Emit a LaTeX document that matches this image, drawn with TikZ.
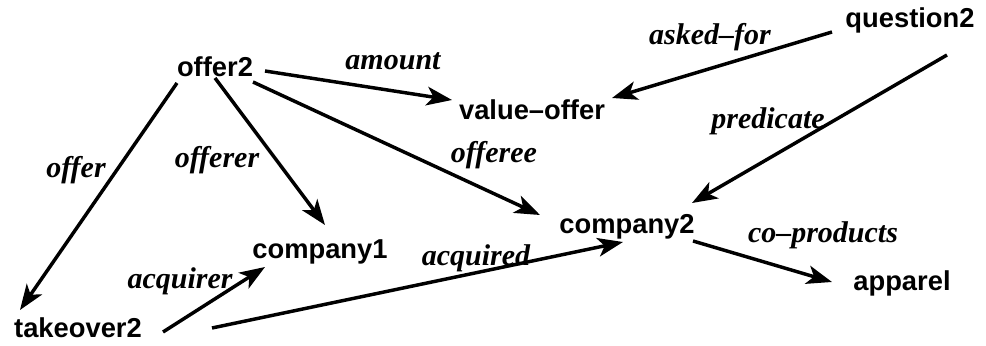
\documentclass[tikz,border=0pt]{standalone}
\usepackage{fontspec}
\setmainfont{Liberation Sans}
\newfontfamily\lblfont[Ligatures=TeX]{Liberation Serif}
\usetikzlibrary{arrows.meta}

\begin{document}
\begin{tikzpicture}[x=0.75pt,y=-0.75pt,
  concept/.style={inner sep=0pt, anchor=base, font=\bfseries\fontsize{20.5}{24}\selectfont},
  rel/.style={inner sep=0pt, font=\lblfont\bfseries\itshape\fontsize{22.5}{26}\selectfont},
  link/.style={line width=2.6pt, -{Stealth[length=19pt,width=14pt,inset=5pt]}}]

% canvas
\fill[white] (0,0) rectangle (986,346);
\useasboundingbox (0,0) rectangle (986,346);

% concepts (placed on their baselines)
\node[concept] (offer2)    at (215,77)  {offer2};
\node[concept] (valoffer)  at (532,119) {value--offer};
\node[concept] (question2) at (910,28)  {question2};
\node[concept] (company2)  at (627,233) {company2};
\node[concept] (company1)  at (320,258) {company1};
\node[concept] (apparel)   at (902,290) {apparel};
\node[concept] (takeover2) at (78,337)  {takeover2};

% relations
\draw[link] ([shift={(50,-6)}]offer2.base)   -- ([shift={(-80,-19)}]valoffer.base);
\draw[link] ([shift={(38,5)}]offer2.base)    -- ([shift={(-87,-18)}]company2.base);
\draw[link] ([shift={(0,1)}]offer2.base)     -- ([shift={(5,-33)}]company1.base);
\draw[link] ([shift={(-38,6)}]offer2.base)   -- ([shift={(-58,-27)}]takeover2.base);
\draw[link] ([shift={(-78,4)}]question2.base) -- ([shift={(80,-21)}]valoffer.base);
\draw[link] ([shift={(37,27)}]question2.base) -- ([shift={(65,-30)}]company2.base);
\draw[link] ([shift={(85,-5)}]takeover2.base) -- ([shift={(-55,9)}]company1.base);
\draw[link] ([shift={(134,-9)}]takeover2.base) -- ([shift={(-4,9)}]company2.base);
\draw[link] ([shift={(66,8)}]company2.base)  -- ([shift={(-70,-8)}]apparel.base);

% relation labels
\node[rel] (l-amount)     at (393,61)  {amount};
\node[rel] (l-offeree)    at (494,155) {offeree};
\node[rel] (l-offerer)    at (217,160) {offerer};
\node[rel] (l-offer)      at (76,170)  {offer};
\node[rel] (l-askedfor)   at (710,37)  {asked--for};
\node[rel] (l-predicate)  at (768,121) {predicate};
\node[rel] (l-acquirer)   at (180,281) {acquirer};
\node[rel] (l-acquired)   at (476,258) {acquired};
\node[rel] (l-coproducts) at (823,235) {co--products};
\end{tikzpicture}
\end{document}
